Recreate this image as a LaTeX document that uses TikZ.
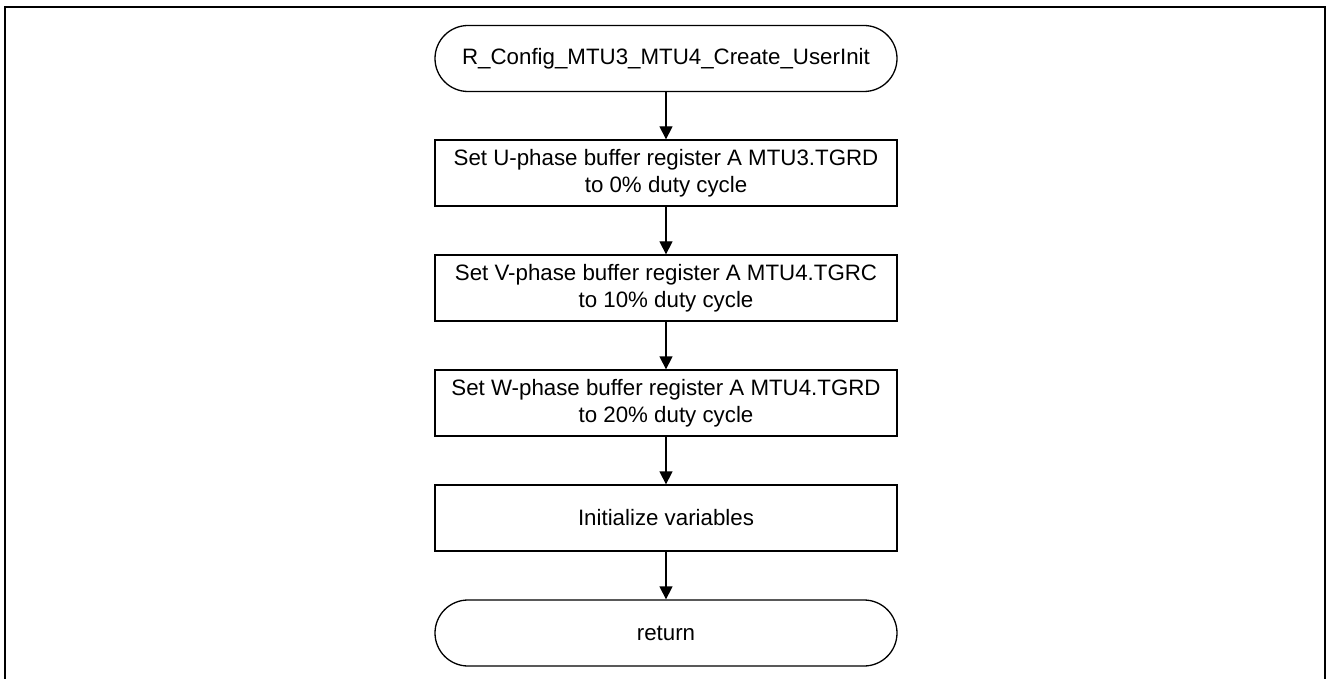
\documentclass[tikz,border=0pt]{standalone}
\usepackage{fontspec}
\setmainfont{Liberation Sans}
\usetikzlibrary{arrows.meta}
\tikzset{
  box/.style={draw, line width=1.3pt, minimum width=462pt, minimum height=66pt, inner sep=0pt, align=center,
    font=\fontsize{22.3}{26.7}\selectfont},
  term/.style={box, rounded corners=33pt},
  flow/.style={line width=1.3pt, -{Triangle[length=13pt,width=13pt]}}
}
\begin{document}
\begin{tikzpicture}[x=1pt,y=-1pt]
\useasboundingbox (0,0) rectangle (1326,679);
\draw[line width=2pt] (5,679) -- (5,7) -- (1325,7) -- (1325,679);
\node[term] (start) at (666,58.5) {R\_Config\_MTU3\_MTU4\_Create\_UserInit};
\node[box] (b1) at (666,173) {Set U-phase buffer register A MTU3.TGRD\\to 0\% duty cycle};
\node[box] (b2) at (666,288) {Set V-phase buffer register A MTU4.TGRC\\to 10\% duty cycle};
\node[box] (b3) at (666,403) {Set W-phase buffer register A MTU4.TGRD\\to 20\% duty cycle};
\node[box] (b4) at (666,518) {Initialize variables};
\node[term] (ret) at (666,633) {return};
\draw[flow] (start) -- (b1);
\draw[flow] (b1) -- (b2);
\draw[flow] (b2) -- (b3);
\draw[flow] (b3) -- (b4);
\draw[flow] (b4) -- (ret);
\end{tikzpicture}
\end{document}
